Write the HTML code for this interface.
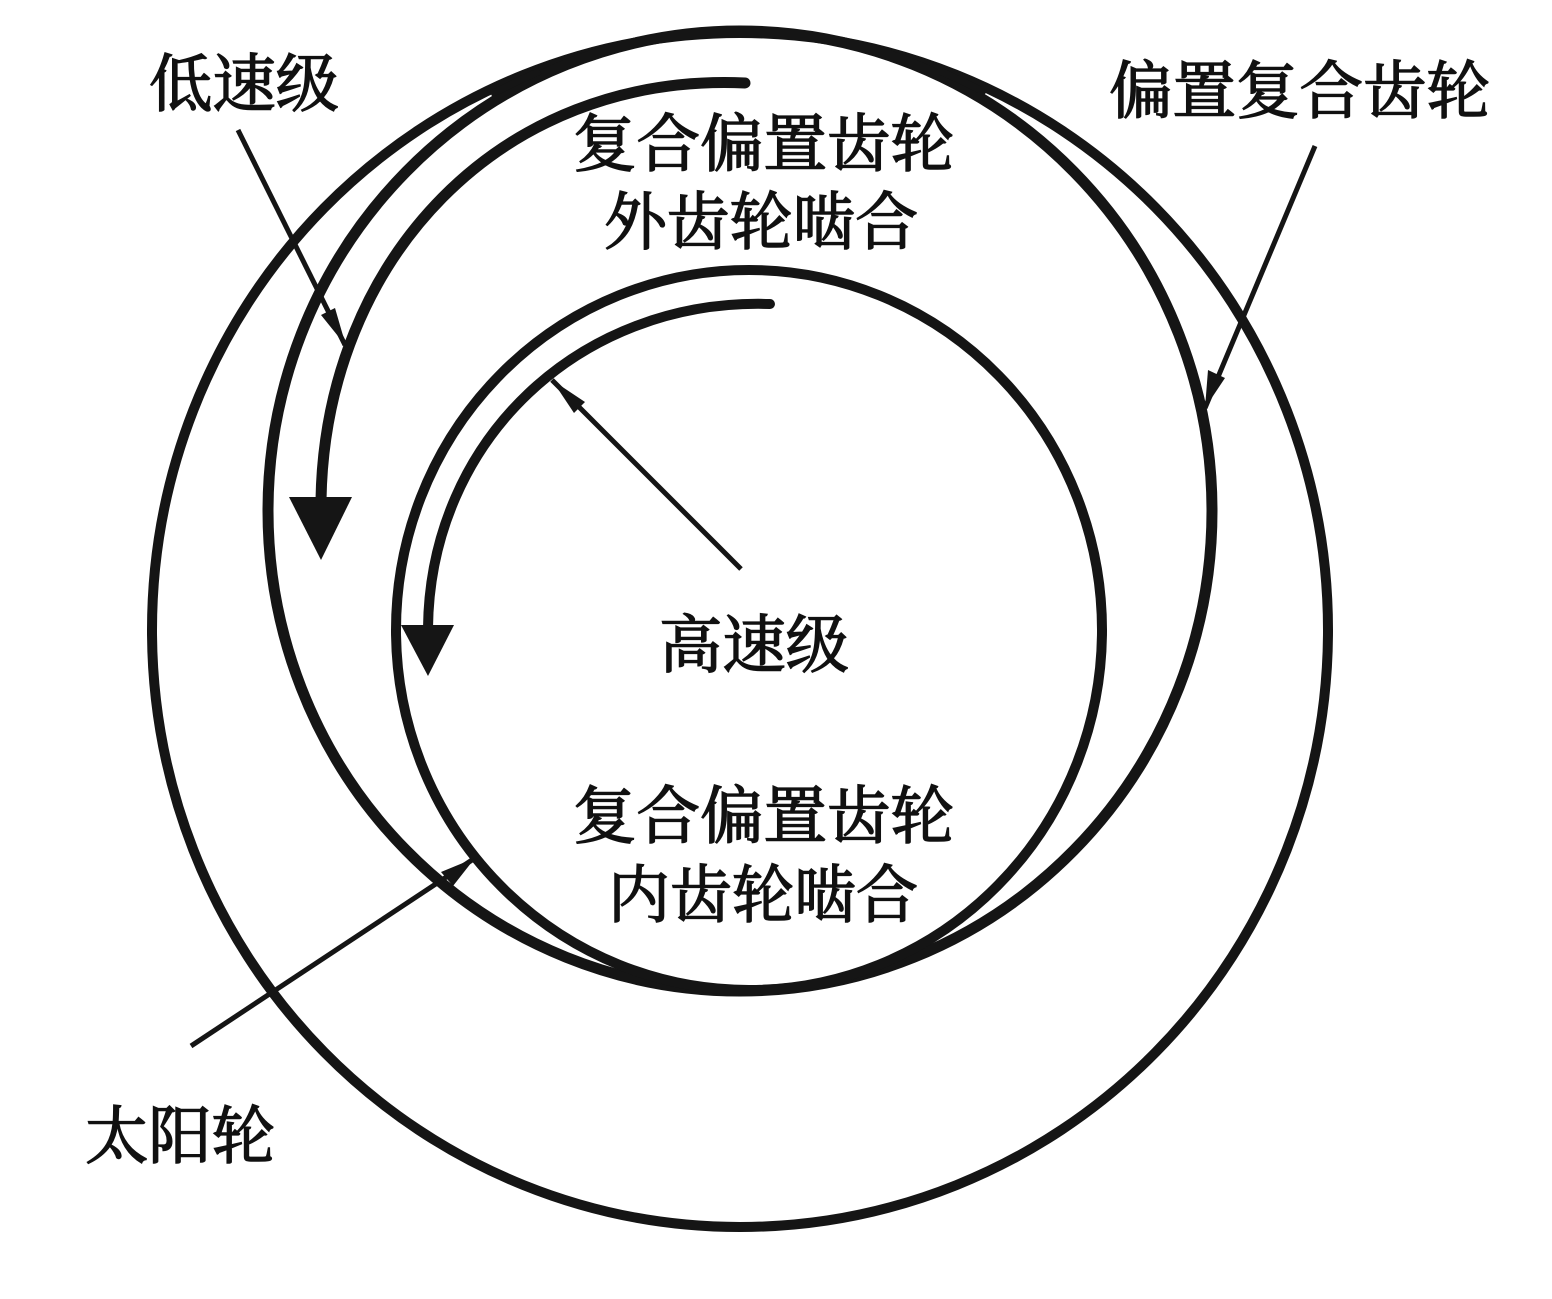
<!DOCTYPE html>
<html lang="zh">
<head>
<meta charset="utf-8">
<style>
html,body{margin:0;padding:0;background:#fff;width:1552px;height:1299px;overflow:hidden}
svg{display:block}
text{font-family:"Liberation Serif","Noto Serif CJK SC",serif;font-size:63px;fill:#111;stroke:#111;stroke-width:1.5px}
</style>
</head>
<body>
<svg width="1552" height="1299" viewBox="0 0 1552 1299" xmlns="http://www.w3.org/2000/svg">
<g fill="none" stroke="#151515">
<ellipse cx="740" cy="630" rx="588" ry="597" stroke-width="10"/>
<ellipse cx="740" cy="511" rx="472" ry="480" stroke-width="11"/>
<ellipse cx="749" cy="630" rx="353" ry="360" stroke-width="10"/>
<path d="M491 94 L500 90 L520 80 L540 71" stroke-width="7"/>
<path d="M985 94 L980 90 L960 80 L940 71" stroke-width="7"/>
<path d="M745 83 C500 72 325 260 321 500" stroke-width="11" stroke-linecap="round"/>
<path d="M770 304 C580 298 430 440 428 628" stroke-width="10" stroke-linecap="round"/>
<g stroke-width="5">
<line x1="238" y1="130" x2="345" y2="345"/>
<line x1="1315" y1="146" x2="1205" y2="408"/>
<line x1="741" y1="569" x2="552" y2="380"/>
<line x1="191" y1="1046" x2="472" y2="860"/>
</g>
</g>
<g fill="#151515">
<polygon points="289,497 352,497 321,560"/>
<polygon points="401,625 454,625 428,676"/>
<polygon points="346,346 321,315 335,308"/>
<polygon points="1205,408 1208,370 1225,378"/>
<polygon points="552,380 585,402 574,413"/>
<polygon points="475,858 441,872 453,886"/>
</g>
<text x="149" y="106" textLength="190" lengthAdjust="spacingAndGlyphs">低速级</text>
<text x="1109" y="113" textLength="381" lengthAdjust="spacingAndGlyphs">偏置复合齿轮</text>
<text x="573" y="166" textLength="381" lengthAdjust="spacingAndGlyphs">复合偏置齿轮</text>
<text x="604" y="244" textLength="314" lengthAdjust="spacingAndGlyphs">外齿轮啮合</text>
<text x="659" y="667" textLength="190" lengthAdjust="spacingAndGlyphs">高速级</text>
<text x="573" y="838" textLength="381" lengthAdjust="spacingAndGlyphs">复合偏置齿轮</text>
<text x="608" y="917" textLength="310" lengthAdjust="spacingAndGlyphs">内齿轮啮合</text>
<text x="85" y="1158" textLength="190" lengthAdjust="spacingAndGlyphs">太阳轮</text>
</svg>
</body>
</html>
